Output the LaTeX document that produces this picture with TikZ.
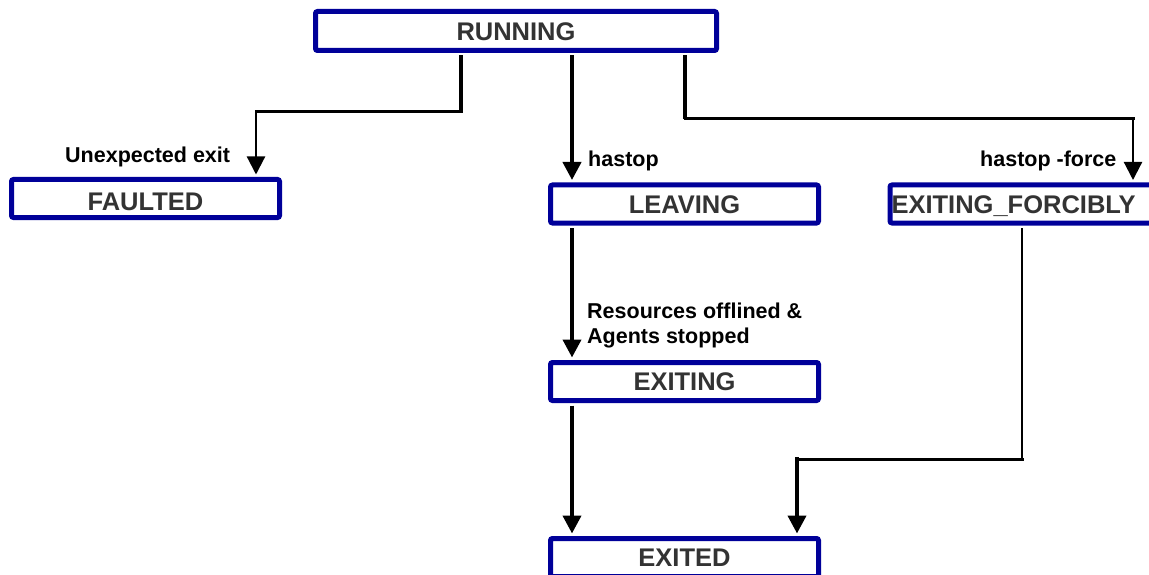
\documentclass[tikz,border=0pt]{standalone}
\usepackage{fontspec}
\setmainfont{Liberation Sans}
\usetikzlibrary{arrows.meta}
\definecolor{stateblue}{RGB}{0,0,153}
\definecolor{stategray}{RGB}{51,51,51}
\begin{document}
\begin{tikzpicture}[x=1pt,y=-1pt,
  state/.style={draw=stateblue, line width=5pt, rounded corners=2pt, fill=white,
    inner sep=0pt, minimum width=268pt, minimum height=38pt,
    font=\fontsize{25.5}{30}\selectfont\bfseries, text=stategray,
    text height=18.5pt, text depth=0pt},
  ev/.style={inner sep=0pt, font=\fontsize{21.5}{25.5}\selectfont\bfseries,
    text=black, anchor=base west},
  heavy/.style={line width=4pt, line cap=rect},
  medium/.style={line width=3pt, line cap=rect},
  light/.style={line width=2.2pt, line cap=rect},
  tip/.style={-{Triangle[width=18pt,length=18pt]}, shorten >=2.5pt},
  fromnode/.style={shorten <=2.5pt, line cap=butt},
]
\useasboundingbox (0,0) rectangle (1149,575);
\fill[white] (0,0) rectangle (1149,575);

% states
\node[state, minimum width=401pt, minimum height=39pt] (running) at (516,31) {RUNNING};
\node[state, text height=23pt] (faulted) at (145.5,198.5) {FAULTED};
\node[state] (leaving) at (684.5,204) {LEAVING};
\node[state, anchor=west, text width=300pt, align=left, inner xsep=1.5pt] (forcibly) at (887.5,204) {EXITING\_FORCIBLY};
\node[state] (exiting) at (684.5,381.5) {EXITING};
\node[state] (exited) at (684.5,557.5) {EXITED};

% RUNNING -> FAULTED
\draw[heavy, fromnode] (461,0 |- running.south) -- (461,112);
\draw[medium] (461,112) -- (256,112);
\draw[light, tip] (256,112) -- (256,0 |- faulted.north);

% RUNNING -> LEAVING
\draw[heavy, fromnode, tip] (572,0 |- running.south) -- (572,0 |- leaving.north);

% RUNNING -> EXITING_FORCIBLY
\draw[heavy, fromnode] (685,0 |- running.south) -- (685,119);
\draw[medium] (685,119) -- (1133,119);
\draw[light, tip] (1133,119) -- (1133,0 |- forcibly.north);

% LEAVING -> EXITING
\draw[heavy, fromnode, tip] (572,0 |- leaving.south) -- (572,0 |- exiting.north);

% EXITING -> EXITED
\draw[heavy, fromnode, tip] (572,0 |- exiting.south) -- (572,0 |- exited.north);

% EXITING_FORCIBLY -> EXITED
\draw[light, fromnode] (1022,0 |- forcibly.south) -- (1022,459);
\draw[medium] (1022,459) -- (797,459);
\draw[heavy, tip] (797,459) -- (797,0 |- exited.north);

% transition labels
\node[ev] (lblfault) at (65,163) {Unexpected exit};
\node[ev] (lblstop) at (588,167) {hastop};
\node[ev] (lblforce) at (980,167) {hastop -force};
\node[ev, anchor=north west, align=left] (lbloff) at (587,302.5) {Resources offlined \&\\Agents stopped};
\end{tikzpicture}
\end{document}
